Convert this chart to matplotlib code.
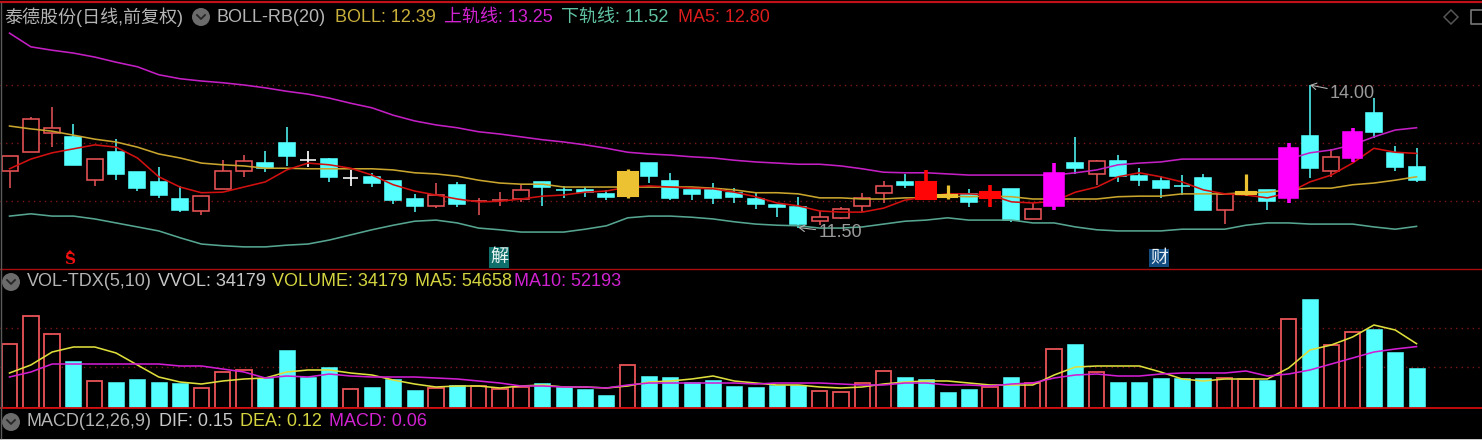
import matplotlib
matplotlib.use("Agg")
import matplotlib.pyplot as plt
from matplotlib.patches import Rectangle, Circle, Polygon
import numpy as np

# ---------- data ----------
opens = [12.49,12.82,13.16,13.09,12.33,12.82,12.47,12.30,12.00,11.79,
         12.18,12.49,12.63,12.98,12.68,12.70,12.37,12.39,12.32,12.00,
         11.88,12.25,11.96,11.98,12.00,12.30,12.16,12.16,12.09,12.05,
         12.63,12.32,12.16,12.16,12.11,12.00,11.89,11.86,11.61,11.67,
         11.88,12.11,12.30,12.00,12.04,12.09,12.02,12.18,11.65,11.88,
         12.63,12.44,12.67,12.40,12.32,12.23,12.37,11.81,12.09,12.16,
         12.02,13.11,12.49,12.72,13.51,12.81,12.56]
highs = [12.75,13.44,13.61,13.32,12.70,13.05,12.47,12.56,12.23,12.05,
         12.68,12.77,12.84,13.26,12.84,12.72,12.51,12.46,12.32,12.09,
         12.28,12.30,12.02,12.12,12.25,12.30,12.23,12.21,12.16,12.53,
         12.63,12.46,12.16,12.28,12.19,12.11,11.89,12.04,11.79,11.86,
         12.11,12.32,12.44,12.51,12.25,12.18,12.25,12.18,11.93,12.63,
         13.09,12.68,12.77,12.54,12.40,12.42,12.44,12.09,12.44,12.16,
         12.98,14.00,12.88,13.25,13.77,12.93,12.89]
lows = [12.19,12.82,12.91,12.60,12.23,12.33,12.14,12.02,11.77,11.72,
        12.18,12.39,12.47,12.58,12.56,12.30,12.23,12.21,11.91,11.77,
        11.84,11.86,11.72,11.88,11.95,11.88,12.02,12.04,11.98,12.02,
        12.28,11.98,11.98,11.91,11.93,11.82,11.68,11.50,11.54,11.65,
        11.77,11.93,12.19,12.00,12.00,11.86,11.86,11.60,11.65,11.81,
        12.44,12.25,12.30,12.23,12.02,12.07,11.81,11.56,12.07,11.81,
        11.93,12.37,12.39,12.65,13.07,12.49,12.30]
closes = [12.75,13.40,13.25,12.60,12.70,12.44,12.19,12.07,11.81,12.05,
          12.49,12.67,12.54,12.75,12.68,12.39,12.37,12.28,11.98,11.88,
          12.07,11.91,11.96,11.98,12.16,12.21,12.16,12.12,12.04,12.47,
          12.40,12.02,12.09,12.02,12.04,11.91,11.86,11.56,11.68,11.82,
          12.02,12.23,12.25,12.30,12.07,11.95,12.12,11.63,11.82,12.46,
          12.54,12.67,12.40,12.33,12.19,12.23,11.81,12.09,12.12,11.96,
          12.89,12.54,12.74,13.18,13.18,12.56,12.33]
# u hollow red, d cyan, w white doji, g gold, r solid red, m magenta
kinds = list("uuududdddu" "uuddwdwddd" "uduuuddddg" "dddddddduu"
             "uudrgdrdum" "dudddddugd" "mdumddd")
upper = [14.91,14.67,14.61,14.56,14.49,14.40,14.32,14.18,14.11,14.07,
         14.04,14.00,13.95,13.89,13.84,13.77,13.68,13.60,13.47,13.37,
         13.30,13.25,13.18,13.14,13.09,13.04,13.00,12.95,12.89,12.82,
         12.79,12.77,12.74,12.72,12.68,12.65,12.63,12.61,12.61,12.58,
         12.53,12.47,12.46,12.46,12.44,12.42,12.42,12.42,12.42,12.42,
         12.46,12.51,12.60,12.63,12.65,12.70,12.70,12.70,12.70,12.70,
         12.70,12.81,12.86,12.95,13.09,13.21,13.25]
boll = [13.28,13.23,13.19,13.12,13.05,13.00,12.91,12.79,12.72,12.63,
        12.60,12.58,12.54,12.54,12.53,12.53,12.53,12.53,12.51,12.46,
        12.44,12.40,12.33,12.28,12.26,12.26,12.21,12.21,12.21,12.21,
        12.21,12.21,12.21,12.19,12.16,12.11,12.11,12.09,12.02,12.02,
        12.00,12.00,12.02,12.02,12.05,12.04,12.05,12.04,12.00,12.00,
        12.00,12.00,12.04,12.05,12.05,12.09,12.09,12.09,12.11,12.12,
        12.16,12.19,12.19,12.25,12.28,12.33,12.39]
lower = [11.70,11.74,11.70,11.70,11.65,11.58,11.51,11.44,11.32,11.21,
         11.18,11.16,11.16,11.19,11.21,11.28,11.37,11.46,11.54,11.61,
         11.63,11.58,11.49,11.46,11.42,11.42,11.42,11.47,11.53,11.67,
         11.70,11.70,11.68,11.65,11.60,11.56,11.54,11.53,11.49,11.49,
         11.51,11.56,11.61,11.63,11.67,11.63,11.63,11.63,11.58,11.58,
         11.51,11.46,11.44,11.44,11.44,11.47,11.47,11.47,11.54,11.58,
         11.58,11.56,11.56,11.56,11.51,11.47,11.52]
ma5 = [12.53,12.70,12.81,12.88,12.95,12.91,12.72,12.39,12.21,12.11,
       12.12,12.21,12.30,12.51,12.63,12.60,12.54,12.42,12.25,12.14,
       12.07,12.00,11.95,11.96,12.00,12.05,12.07,12.12,12.14,12.21,
       12.23,12.21,12.19,12.18,12.12,12.04,11.93,11.88,11.79,11.77,
       11.77,11.84,11.98,12.04,12.09,12.09,12.07,11.95,11.93,11.96,
       12.12,12.21,12.39,12.46,12.39,12.30,12.16,12.09,12.07,12.02,
       12.11,12.30,12.42,12.63,12.89,12.82,12.80]
volume = [54400,78200,62900,39950,22950,22100,24650,22100,21250,17000,
          30600,32300,25500,49300,26350,34850,16150,17850,24650,15300,
          17000,19550,18700,16150,17850,21250,17850,16150,11050,36550,
          27200,26350,22100,23800,18700,17850,19550,19550,14450,13600,
          21250,31450,26350,24650,13600,16150,17850,26350,21250,50150,
          54400,30600,22100,22100,25500,25500,25500,25500,24650,23800,
          75650,92650,53550,64600,67150,47600,34179]
vol_up = [1,1,1,0,1,0,0,0,0,1,
          1,1,0,0,0,0,1,0,0,0,
          1,0,1,1,1,0,0,0,0,1,
          0,0,0,0,0,0,0,0,1,1,
          1,1,0,0,0,0,1,0,1,1,
          0,1,0,0,0,0,0,1,1,0,
          1,0,1,1,0,0,0]
vol_ma5 = [29750,36550,47600,51850,51850,46750,36550,26350,22100,20400,
           22950,24650,25500,30600,32300,32300,29750,28050,23800,20400,
           17850,18700,18700,17000,18700,19550,17850,17850,17000,18700,
           22100,22950,24650,27200,22950,21250,19550,19550,17850,17000,
           17850,20400,22100,22950,22950,21250,19550,19550,19550,28050,
           34850,35700,35700,35700,30600,24650,22950,24650,24650,24650,
           34000,49300,53550,60350,70550,66300,54658]
vol_ma10 = [26350,30600,37400,37400,37400,37400,37400,37400,35700,35700,
            33150,30600,25500,27200,26350,28900,27200,26350,26350,26350,
            25500,24650,22950,21250,18700,18700,17850,17850,17000,19550,
            21250,21250,21250,21250,21250,20400,21250,21250,21250,20400,
            19550,19550,21250,21250,19550,19550,18700,20400,21250,25500,
            28050,28900,27200,27200,28900,29750,29750,29750,31450,27200,
            28900,32300,37400,42500,47600,50150,52193]
price_grid = [14.00, 12.98, 11.96]
vol_grid = [68000, 34850]

W, H = 1482, 440
plt.rcParams['font.family'] = ['Liberation Sans', 'Noto Sans CJK SC']
BG = '#000000'
fig = plt.figure(figsize=(W / 100, H / 100), dpi=100, facecolor=BG)


def panel(top, bottom):
    a = fig.add_axes([0, 1 - bottom / H, 1, (bottom - top) / H], facecolor=BG)
    a.axis('off')
    a.set_xlim(-0.446, 69.07)
    return a


CYAN, HOLLOW, GOLD, RED, MAG = '#54ffff', '#ea5457', '#ecc232', '#ff0505', '#ff00ff'
UPPER, MID, LOW, MALINE = '#c41fc4', '#c9a52e', '#56a590', '#d31010'
GRID = '#7c1818'

# ---------- price panel ----------
ax = panel(4, 269)
ax.set_ylim(14 - (269 - 85) / 57, 14 + (85 - 4) / 57)
x = np.arange(len(closes))
for g in price_grid:
    ax.axhline(g, color=GRID, lw=1.0, ls=(0, (1, 3)), zorder=1)
style = {'u': (HOLLOW, BG, 0.75, 1.1, 2), 'd': (CYAN, CYAN, 0.75, 1.1, 2),
         'w': ('#ffffff', '#ffffff', 0.72, 1.25, 2), 'g': (GOLD, GOLD, 0.92, 2.3, 5),
         'r': (RED, RED, 0.92, 2.6, 5), 'm': (MAG, MAG, 0.92, 2.6, 5)}
for i in x:
    k = kinds[i]
    edge, face, wd, wlw, z = style[k]
    ax.vlines(i, lows[i], highs[i], color=edge, lw=wlw, zorder=z)
    bot, top = sorted((opens[i], closes[i]))
    ax.bar(i, top - bot, wd, bottom=bot, facecolor=face, edgecolor=edge,
           linewidth=1.15 if k not in 'gr' else 1.5, zorder=z + 0.1)
ax.plot(x, upper, color=UPPER, lw=1.15, zorder=3)
ax.plot(x, boll, color=MID, lw=1.15, zorder=3)
ax.plot(x, lower, color=LOW, lw=1.15, zorder=3)
ax.plot(x, ma5, color=MALINE, lw=1.15, zorder=3)
for idx, val, dx, dy, label in [(61, 14.00, 14.4, -6.2, '14.00'), (37, 11.50, 14.4, -3.7, '11.50')]:
    ax.annotate(label, xy=(idx, val), xytext=(dx, dy), textcoords='offset points',
                color='#9a9a9a', fontsize=13, va='center', ha='left', zorder=7,
                arrowprops=dict(arrowstyle='->,head_width=0.18,head_length=0.3',
                                color='#b0b0b0', lw=0.8, shrinkA=0, shrinkB=0))

# ---------- volume panel ----------
vx = panel(270, 408)
vx.set_ylim(0, 138 * 850)
for g in vol_grid:
    vx.axhline(g, color=GRID, lw=1.0, ls=(0, (1, 3)), zorder=1)
for i in x:
    if vol_up[i]:
        vx.bar(i, volume[i], 0.72, facecolor=BG, edgecolor=HOLLOW, linewidth=1.3, zorder=2)
    else:
        vx.bar(i, volume[i], 0.75, facecolor=CYAN, edgecolor=CYAN, linewidth=0.4, zorder=2)
vx.plot(x, vol_ma5, color='#dede3c', lw=1.15, zorder=3)
vx.plot(x, vol_ma10, color='#d21ed2', lw=1.15, zorder=3)

# ---------- chrome and text, placed in pixel coordinates ----------
ov = fig.add_axes([0, 0, 1, 1], facecolor='none', zorder=10)
ov.axis('off')
ov.set_xlim(0, W)
ov.set_ylim(H, 0)
ov.plot([0, W], [2.5, 2.5], color='#c01018', lw=1.6)
ov.plot([0, W], [269.5, 269.5], color='#a80c0c', lw=1.0)
ov.plot([0, W], [408.5, 408.5], color='#d00c0c', lw=1.3)
ov.plot([0.5, 0.5], [3, 438], color='#5a5a5a', lw=1.0)
ov.add_patch(Rectangle((0, 438.6), W, 1.4, color='#c8c8c8', lw=0))
ov.add_patch(Polygon([(1451, 10), (1458, 17), (1451, 24), (1444, 17)], closed=True,
                     fill=False, ec='#555555', lw=1.1))
ov.plot([1482, 1471, 1471, 1482], [10, 10, 24, 24], color='#777777', lw=1.2)


def chevron(cx, cy):
    ov.add_patch(Circle((cx, cy), 9, color='#6b6b6b', lw=0))
    ov.plot([cx - 4, cx, cx + 4], [cy - 2, cy + 2, cy - 2], color='#262626', lw=1.3)


chevron(201, 17)
chevron(11, 282)
chevron(11, 422)

texts = [
    (4, 17, '泰德股份(日线,前复权)', '#b4b4b4'),
    (216, 17, 'BOLL-RB(20)', '#b4b4b4'),
    (335, 17, 'BOLL: 12.39', '#c8b03a'),
    (444, 17, '上轨线: 13.25', '#d022d0'),
    (561, 17, '下轨线: 11.52', '#5fc2a2'),
    (678, 17, 'MA5: 12.80', '#dc1c1c'),
    (27, 282, 'VOL-TDX(5,10)', '#b4b4b4'),
    (158, 282, 'VVOL: 34179', '#c8c8c8'),
    (272, 282, 'VOLUME: 34179', '#d4d440'),
    (415, 282, 'MA5: 54658', '#d4d440'),
    (514, 282, 'MA10: 52193', '#d022d0'),
    (27, 422, 'MACD(12,26,9)', '#b4b4b4'),
    (159, 422, 'DIF: 0.15', '#c8c8c8'),
    (240, 422, 'DEA: 0.12', '#d4d440'),
    (329, 422, 'MACD: 0.06', '#d022d0'),
]
for tx, ty, s, c in texts:
    ov.text(tx, ty, s, color=c, fontsize=13, ha='left', va='center')

ov.add_patch(Rectangle((489, 247), 20, 21, color='#0f6f6a', lw=0))
ov.text(499, 257.5, '解', color='#e8f4f2', fontsize=13, ha='center', va='center')
ov.add_patch(Rectangle((1149, 249), 20, 18, color='#124c80', lw=0))
ov.text(1159, 258, '财', color='#e8f0f8', fontsize=13, ha='center', va='center')
ov.text(70, 260, 'S', color='#ee1010', fontsize=11, fontweight='bold', ha='center', va='center',
        family='DejaVu Serif')
ov.add_patch(Polygon([(66, 254), (70, 250), (74, 254)], closed=True, color='#ee1010', lw=0))

fig.savefig('out.png', dpi=100, facecolor=BG)
